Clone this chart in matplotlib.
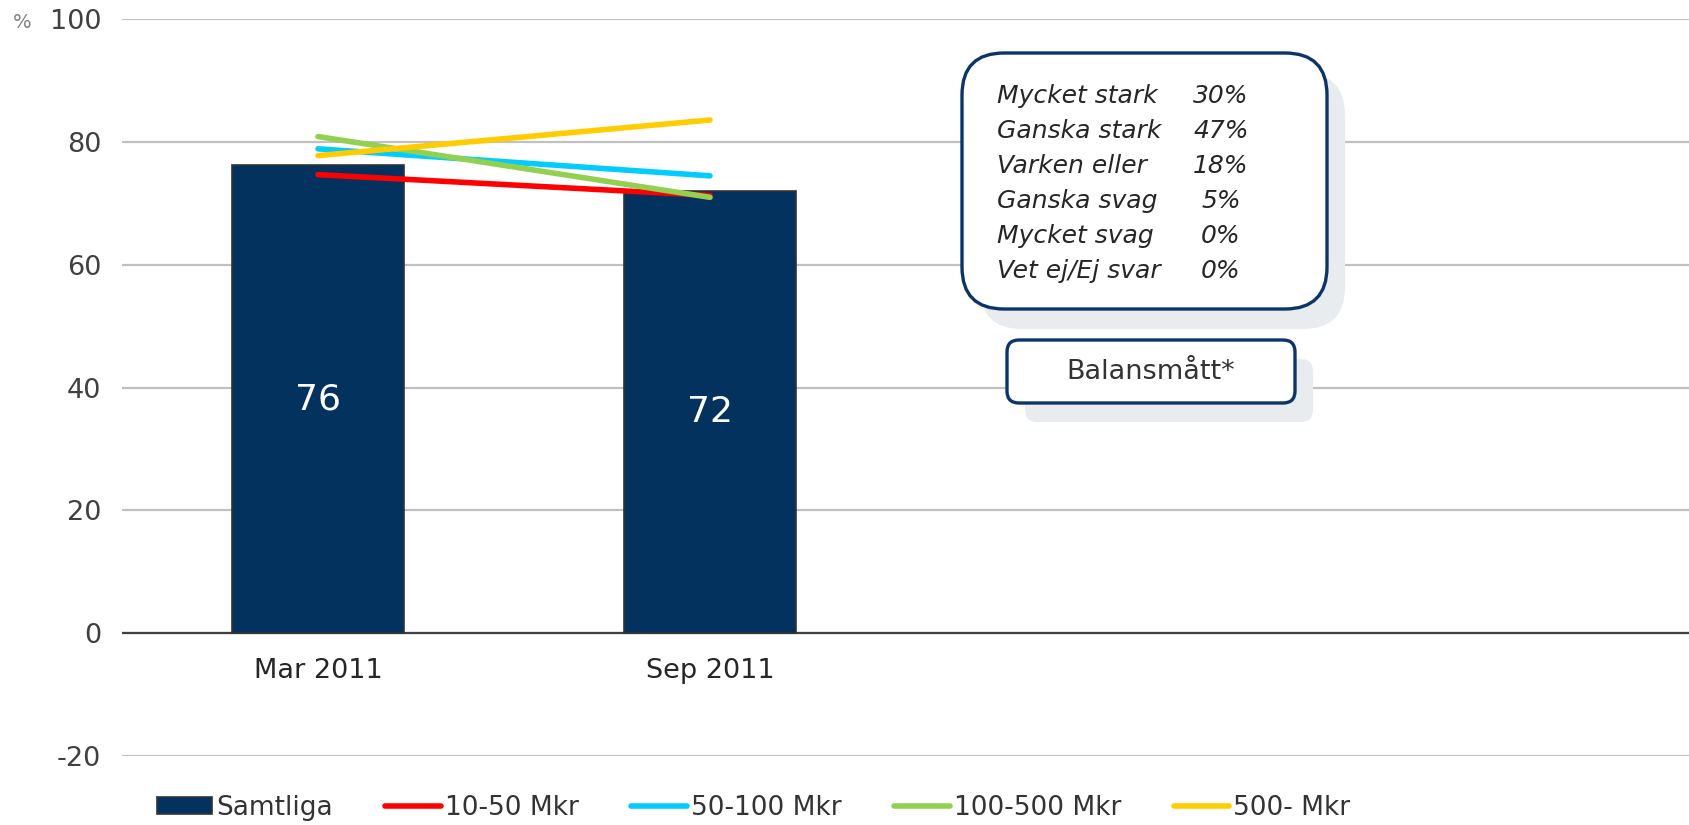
import matplotlib.pyplot as plt
from matplotlib.patches import FancyBboxPatch
import numpy as np

# data
perioder = ["Mar 2011", "Sep 2011", "", ""]
samtliga = [76.3, 72.1]
serie_namn = ["10-50 Mkr", "50-100 Mkr", "100-500 Mkr", "500- Mkr"]
serie_10_50 = [74.7, 71.3]
serie_50_100 = [78.9, 74.5]
serie_100_500 = [80.9, 71.0]
serie_500 = [77.8, 83.6]
farger = ["#FF0000", "#00CCFF", "#92D050", "#FFCC00"]
svar_namn = ["Mycket stark", "Ganska stark", "Varken eller", "Ganska svag", "Mycket svag", "Vet ej/Ej svar"]
svar_andel = ["30%", "47%", "18%", "5%", "0%", "0%"]

plt.rcParams['font.family'] = ['DejaVu Sans']
plt.rcParams['axes.unicode_minus'] = False
W, H = 1690, 825
fig = plt.figure(figsize=(W / 100, H / 100), dpi=100)
ax = fig.add_axes([122 / W, 1 - 756 / H, 1568 / W, (756 - 19.3) / H])

x = np.arange(len(perioder))
n = len(samtliga)
bars = ax.bar(x[:n], samtliga, width=0.44, color="#03325F", edgecolor="#333333",
              linewidth=1.2, zorder=3, label="Samtliga")
for b, v in zip(bars, samtliga):
    ax.text(b.get_x() + b.get_width() / 2, v / 2, f"{v:.0f}", ha="center", va="center",
            color="white", fontsize=26, zorder=4)

linjer = []
for namn, vals, c in zip(serie_namn, [serie_10_50, serie_50_100, serie_100_500, serie_500], farger):
    l, = ax.plot(x[:n], vals, color=c, lw=4, solid_capstyle="round", zorder=5, label=namn)
    linjer.append(l)

ax.set_xlim(-0.5, 3.5)
ax.set_ylim(-20, 100)
ax.set_yticks(np.arange(-20, 101, 20))
ax.yaxis.grid(True, color="#C0C0C0", lw=1.6, zorder=0)
ax.axhline(0, color="#404040", lw=1.6, zorder=2)
for s in ax.spines.values():
    s.set_visible(False)
ax.tick_params(axis="y", length=0, labelsize=19.5, labelcolor="#404040", pad=15)
ax.set_xticks([])
for xi, lab in zip(x, perioder):
    ax.text(xi, -6.2, lab, ha="center", va="center", fontsize=19.5, color="#262626")
fig.text(13 / W, 1 - 22 / H, "%", fontsize=14, color="#808080", va="center", ha="left")

leg = ax.legend([bars] + linjer, ["Samtliga"] + serie_namn, loc="center left",
                bbox_to_anchor=(146 / W, 1 - 808 / H), bbox_transform=fig.transFigure,
                ncol=5, frameon=False, fontsize=19, handlelength=2.1, handleheight=0.6,
                handletextpad=0.15, columnspacing=2.0, borderaxespad=0)
for t in leg.get_texts():
    t.set_color("#333333")

# textrutor
ov = fig.add_axes([0, 0, 1, 1], zorder=10)
ov.set_xlim(0, W)
ov.set_ylim(H, 0)
ov.axis("off")
ov.patch.set_alpha(0)

def ruta(x0, y0, w, h, r, dx, dy):
    ov.add_patch(FancyBboxPatch((x0 + dx, y0 + dy), w, h, boxstyle=f"round,pad=0,rounding_size={r}",
                                fc="#E9ECEF", ec="none"))
    ov.add_patch(FancyBboxPatch((x0, y0), w, h, boxstyle=f"round,pad=0,rounding_size={r}",
                                fc="white", ec="#0B3468", lw=2.4))

ruta(962, 53, 365, 256, 42, 18, 20)
for i, (namn, andel) in enumerate(zip(svar_namn, svar_andel)):
    yy = 96 + i * 35
    ov.text(997, yy, namn, fontsize=18, style="italic", color="#262626", va="center", ha="left")
    ov.text(1221, yy, andel, fontsize=18, style="italic", color="#262626", va="center", ha="center")

ruta(1007, 340, 288, 63, 12, 18, 19)
ov.text(1151, 372, "Balansmått*", fontsize=19.5, color="#333333", va="center", ha="center")

fig.savefig("out.png", dpi=100)
